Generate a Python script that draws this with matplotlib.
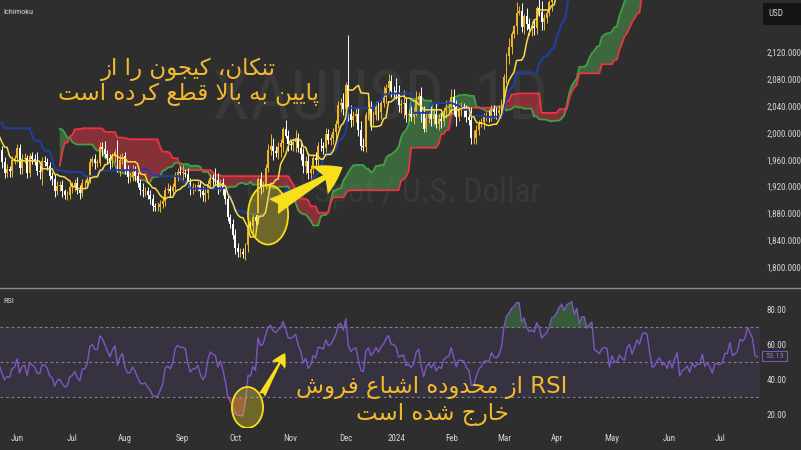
import re
import numpy as np
import pandas as pd
import matplotlib
matplotlib.use('Agg')
import matplotlib.pyplot as plt
from matplotlib import font_manager as fm
from matplotlib.lines import Line2D
from matplotlib.patches import Ellipse, FancyArrowPatch, Rectangle, ArrowStyle

# XAUUSD daily, Mar 10 2023 .. Jul 22 2024 (no bars on Dec 25 / Jan 1)
first_open = 1831
closes = [
    # Mar 2023
    1868, 1913, 1904, 1918, 1919, 1989, 1978, 1940, 1970, 1993, 1978, 1956, 1973, 1964, 1980, 1969,
    # Apr
    1984, 2020, 2021, 2007, 2008, 1990, 2003, 2014, 2040, 2004, 1995, 2005, 1995, 2004, 1983, 1989, 1998, 1990, 1988, 1990,
    # May
    1983, 2016, 2039, 2050, 2017, 2022, 2034, 2030, 2015, 2011, 2018, 1989, 1982, 1958, 1977, 1971, 1975, 1957, 1940, 1946, 1943, 1959, 1962,
    # Jun
    1978, 1948, 1961, 1963, 1940, 1965, 1961, 1957, 1943, 1942, 1958, 1957, 1951, 1936, 1932, 1913, 1921, 1923, 1913, 1907, 1908, 1919,
    # Jul
    1921, 1926, 1915, 1911, 1925, 1925, 1932, 1957, 1961, 1955, 1955, 1979, 1976, 1969, 1962, 1955, 1965, 1972, 1946, 1959, 1965,
    # Aug
    1944, 1934, 1934, 1942, 1936, 1925, 1915, 1913, 1914, 1907, 1902, 1891, 1889, 1889, 1894, 1899, 1915, 1917, 1914, 1920, 1937, 1942, 1940,
    # Sep
    1940, 1939, 1926, 1916, 1919, 1919, 1922, 1913, 1907, 1910, 1924, 1933, 1931, 1930, 1919, 1925, 1916, 1901, 1874, 1864, 1848,
    # Oct
    1828, 1822, 1822, 1820, 1833, 1862, 1861, 1874, 1868, 1932, 1919, 1923, 1947, 1974, 1981, 1973, 1970, 1979, 1985, 2006, 1996, 1983,
    # Nov
    1982, 1986, 1992, 1978, 1969, 1950, 1958, 1940, 1946, 1963, 1959, 1981, 1980, 1978, 1998, 1990, 1992, 2002, 2014, 2041, 2044, 2036,
    # Dec
    2072, 2029, 2019, 2025, 2028, 2004, 1981, 1979, 2027, 2035, 2019, 2027, 2040, 2031, 2045, 2053, 2067, 2077, 2063, 2062,
    # Jan 2024
    2058, 2041, 2043, 2045, 2027, 2029, 2024, 2029, 2049, 2055, 2028, 2006, 2023, 2029, 2021, 2029, 2014, 2021, 2018, 2033, 2037, 2039,
    # Feb
    2054, 2039, 2024, 2035, 2035, 2034, 2024, 2020, 1992, 1992, 2004, 2013, 2017, 2024, 2025, 2024, 2036, 2031, 2030, 2034, 2044,
    # Mar
    2083, 2115, 2128, 2148, 2159, 2179, 2182, 2158, 2174, 2162, 2155, 2160, 2157, 2186, 2181, 2165, 2172, 2179, 2195, 2230, 2233,
    # Apr
    2251, 2280, 2300, 2291, 2329, 2339, 2352, 2333, 2372, 2344, 2383, 2383, 2361, 2379, 2391, 2327, 2322, 2316, 2332, 2337, 2335, 2286,
    # May
    2320, 2303, 2301, 2323, 2314, 2309, 2346, 2360, 2336, 2358, 2386, 2376, 2415, 2425, 2421, 2379, 2329, 2334, 2350, 2360, 2338, 2343, 2327,
    # Jun
    2350, 2327, 2355, 2375, 2293, 2311, 2316, 2325, 2304, 2333, 2319, 2329, 2328, 2360, 2321, 2334, 2319, 2298, 2327, 2326,
    # Jul
    2323, 2330, 2356, 2356, 2392, 2358, 2364, 2372, 2415, 2411, 2422, 2469, 2458, 2445, 2400, 2396,
]
# upper / lower shadow length of each candle, in dollars
wick_up = [
    8, 12, 10, 9, 7, 14, 20, 15, 9, 10, 11, 8, 6, 9, 7, 10,
    6, 5, 11, 12, 6, 8, 7, 10, 8, 5, 9, 6, 8, 9, 10, 7, 6, 9, 8, 6,
    9, 5, 12, 31, 8, 8, 6, 10, 9, 8, 7, 6, 9, 8, 6, 7, 9, 6, 7, 8, 5, 6, 5,
    6, 5, 8, 7, 4, 5, 6, 8, 14, 9, 6, 8, 5, 6, 5, 7, 8, 6, 7, 4, 5, 6,
    6, 5, 8, 7, 6, 5, 4, 6, 5, 7, 6, 8, 8, 12, 6, 7, 5, 4, 17, 9, 5,
    6, 8, 7, 10, 9, 6, 7, 10, 6, 6, 8, 7, 5, 8, 6, 7, 5, 9, 6, 5, 4, 6, 8,
    12, 6, 8, 7, 6, 5, 6, 7, 8, 8, 6, 5, 6, 17, 10, 6, 8, 6, 7, 5, 8,
    9, 8, 6, 7, 3, 5, 7, 6, 6, 2, 10, 6, 6, 9, 17, 11, 8, 7, 6, 3, 13, 8,
    7, 7, 12, 8, 9, 8, 7, 12, 6, 6, 9, 6, 12, 6, 9, 8, 6, 6, 5, 7, 8, 16,
    4, 74, 12, 8, 9, 9, 14, 11, 5, 12, 12, 6, 7, 8, 6, 17, 6, 11, 9, 7,
    20, 14, 7, 19, 9, 7, 11, 10, 13, 6, 13, 12, 7, 7, 11, 7, 15, 7, 9, 5, 12, 7,
    11, 11, 10, 9, 11, 10, 7, 12, 19, 12, 8, 6, 6, 6, 6, 9, 5, 6, 7, 8, 6,
    5, 4, 13, 4, 2, 16, 7, 12, 3, 12, 10, 7, 8, 4, 36, 16, 5, 5, 3, 5, 3,
    14, 3, 5, 14, 1, 8, 7, 21, 4, 59, 28, 1, 21, 3, 26, 2, 12, 13, 7, 9, 10, 11,
    2, 20, 9, 3, 13, 7, 6, 18, 8, 7, 1, 10, 7, 25, 4, 10, 8, 6, 14, 2, 23, 6, 20,
    3, 23, 1, 13, 13, 1, 17, 14, 26, 3, 14, 2, 8, 5, 8, 6, 16, 21, 6, 13,
    9, 3, 8, 9, 0, 1, 3, 14, 9, 13, 18, 1, 14, 8, 20, 3,
]
wick_dn = [
    10, 7, 12, 14, 9, 6, 20, 9, 10, 8, 12, 9, 8, 10, 6, 8,
    8, 4, 9, 6, 10, 9, 8, 7, 6, 12, 10, 7, 8, 7, 6, 10, 9, 7, 8, 7,
    14, 9, 7, 13, 6, 10, 12, 8, 9, 8, 7, 9, 10, 6, 8, 7, 6, 10, 7, 6, 8, 9, 6,
    6, 9, 9, 6, 7, 6, 8, 5, 6, 10, 20, 7, 6, 6, 9, 8, 6, 7, 9, 5, 7, 6,
    9, 8, 6, 10, 7, 8, 6, 6, 7, 9, 6, 5, 10, 6, 7, 9, 6, 8, 5, 10, 6,
    5, 9, 7, 6, 8, 6, 7, 8, 7, 6, 8, 7, 5, 5, 7, 6, 8, 5, 10, 7, 6, 8, 9,
    10, 5, 6, 9, 7, 5, 6, 8, 9, 10, 8, 6, 9, 7, 10, 6, 9, 7, 5, 6, 7,
    8, 7, 7, 6, 10, 11, 6, 10, 6, 4, 10, 7, 7, 6, 7, 14, 6, 9, 15, 14, 3, 10,
    8, 9, 15, 7, 9, 10, 12, 9, 11, 7, 7, 9, 7, 9, 7, 6, 8, 9, 11, 7, 9, 9,
    7, 11, 10, 8, 8, 8, 7, 6, 7, 7, 14, 8, 7, 12, 10, 7, 9, 9, 9, 11,
    8, 10, 11, 21, 11, 9, 6, 11, 4, 6, 11, 5, 5, 8, 10, 9, 7, 10, 11, 7, 10, 7,
    11, 12, 13, 6, 9, 10, 7, 8, 9, 8, 8, 7, 4, 11, 6, 8, 6, 8, 9, 7, 12,
    9, 9, 12, 10, 6, 12, 3, 8, 10, 9, 9, 10, 11, 9, 7, 11, 12, 8, 4, 13, 4,
    23, 12, 7, 10, 8, 7, 12, 14, 15, 18, 6, 17, 8, 13, 21, 14, 6, 18, 25, 11, 8, 3,
    5, 10, 22, 5, 10, 5, 6, 8, 6, 14, 12, 5, 9, 10, 5, 5, 14, 9, 6, 13, 8, 3, 7,
    20, 10, 5, 4, 6, 16, 8, 10, 8, 12, 14, 4, 6, 8, 4, 12, 8, 7, 10, 7,
    4, 11, 14, 5, 8, 12, 8, 7, 3, 13, 12, 2, 10, 5, 7, 8,
]

price_ticks = [1800, 1840, 1880, 1920, 1960, 2000, 2040, 2080, 2120]
rsi_ticks = [20, 40, 60, 80]
rsi_last_label = '53.13'

note_top = ['تنکان، کیجون را از', 'پایین به بالا قطع کرده است']
note_rsi = ['RSI از محدوده اشباع فروش', 'خارج شده است']

BG = '#2e2e2e'
TXT = '#d1d4dc'
BULL = '#edb526'
BEAR = '#ffffff'
NOTE = '#f2ba2c'
MARK = '#f7df1e'

# --- matplotlib has no arabic shaping, so pick presentation forms by hand
AR_FORMS = {
    'ا': ('\uFE8D', '\uFE8E', None, None),
    'ب': ('\uFE8F', '\uFE90', '\uFE91', '\uFE92'),
    'پ': ('\uFB56', '\uFB57', '\uFB58', '\uFB59'),
    'ت': ('\uFE95', '\uFE96', '\uFE97', '\uFE98'),
    'ج': ('\uFE9D', '\uFE9E', '\uFE9F', '\uFEA0'),
    'ح': ('\uFEA1', '\uFEA2', '\uFEA3', '\uFEA4'),
    'خ': ('\uFEA5', '\uFEA6', '\uFEA7', '\uFEA8'),
    'د': ('\uFEA9', '\uFEAA', None, None),
    'ر': ('\uFEAD', '\uFEAE', None, None),
    'ز': ('\uFEAF', '\uFEB0', None, None),
    'س': ('\uFEB1', '\uFEB2', '\uFEB3', '\uFEB4'),
    'ش': ('\uFEB5', '\uFEB6', '\uFEB7', '\uFEB8'),
    'ط': ('\uFEC1', '\uFEC2', '\uFEC3', '\uFEC4'),
    'ع': ('\uFEC9', '\uFECA', '\uFECB', '\uFECC'),
    'ف': ('\uFED1', '\uFED2', '\uFED3', '\uFED4'),
    'ق': ('\uFED5', '\uFED6', '\uFED7', '\uFED8'),
    '\u06A9': ('\uFB8E', '\uFB8F', '\uFB90', '\uFB91'),
    '\u0643': ('\uFB8E', '\uFB8F', '\uFB90', '\uFB91'),
    'ل': ('\uFEDD', '\uFEDE', '\uFEDF', '\uFEE0'),
    'م': ('\uFEE1', '\uFEE2', '\uFEE3', '\uFEE4'),
    'ن': ('\uFEE5', '\uFEE6', '\uFEE7', '\uFEE8'),
    'ه': ('\uFEE9', '\uFEEA', '\uFEEB', '\uFEEC'),
    'و': ('\uFEED', '\uFEEE', None, None),
    '\u06CC': ('\uFBFC', '\uFBFD', '\uFBFE', '\uFBFF'),
    '\u064A': ('\uFBFC', '\uFBFD', '\uFBFE', '\uFBFF'),
}


def rtl(text):
    out = []
    i = 0
    while i < len(text):
        ch = text[i]
        if ch not in AR_FORMS:
            out.append(ch)
            i += 1
            continue
        prev = text[i - 1] if i > 0 else ''
        nxt = text[i + 1] if i + 1 < len(text) else ''
        link_prev = prev in AR_FORMS and AR_FORMS[prev][2] is not None
        if ch == 'ل' and nxt == 'ا':
            out.append('\uFEFC' if link_prev else '\uFEFB')
            i += 2
            continue
        iso, fin, ini, med = AR_FORMS[ch]
        link_next = ini is not None and nxt in AR_FORMS
        if link_prev and link_next:
            out.append(med)
        elif link_prev:
            out.append(fin)
        elif link_next:
            out.append(ini)
        else:
            out.append(iso)
        i += 1
    s = ''.join(out)[::-1]
    return re.sub(r'[A-Za-z0-9.]+', lambda m: m.group(0)[::-1], s)


names = {f.name for f in fm.fontManager.ttflist}
NARROW = next((n for n in ['Liberation Sans Narrow', 'DejaVu Sans Condensed', 'Roboto Condensed']
               if n in names), 'Liberation Sans')

# --- data
days = pd.bdate_range('2023-03-10', '2024-07-22')
days = days[~days.isin(pd.to_datetime(['2023-12-25', '2024-01-01']))]
c = np.array(closes, float)
o = np.r_[first_open, c[:-1]]
h = np.maximum(o, c) + np.array(wick_up)
l = np.minimum(o, c) - np.array(wick_dn)
x = np.arange(len(c))
assert len(days) == len(c) == len(h) == len(l)

hs, ls = pd.Series(h), pd.Series(l)


def mid(n):
    return (hs.rolling(n).max() + ls.rolling(n).min()) / 2


tenkan = mid(9)
kijun = mid(26)
span_b = mid(52)
span_a = ((tenkan + kijun) / 2).where(span_b.notna())
xs = x + 25

delta = pd.Series(c).diff()
gain = delta.clip(lower=0).ewm(alpha=1 / 14, adjust=False).mean()
loss = (-delta.clip(upper=0)).ewm(alpha=1 / 14, adjust=False).mean()
rsi = (100 - 100 / (1 + gain / loss)).to_numpy()

XLIM = (52.2, 355.0)

# --- figure
fig = plt.figure(figsize=(8.01, 4.5), dpi=100, facecolor=BG)
ax = fig.add_axes([0, 1 - 286 / 450, 760 / 801, 286 / 450])
ax2 = fig.add_axes([0, 1 - 428 / 450, 760 / 801, 139 / 450])
for a in (ax, ax2):
    a.set_facecolor(BG)
    for s in a.spines.values():
        s.set_visible(False)

# watermark
ax.text(380 / 801, 1 - 100 / 450, 'XAUUSD, 1D', transform=fig.transFigure, ha='center', va='center',
        fontsize=50, color='#393939', family=NARROW, zorder=0)
ax.text(393 / 801, 1 - 193 / 450, 'Gold Spot / U.S. Dollar', transform=fig.transFigure, ha='center',
        va='center', fontsize=24, color='#393939', family=NARROW, zorder=0)

# cloud
ax.fill_between(xs, span_a, span_b, where=span_a >= span_b, interpolate=True,
                color='#4caf50', alpha=0.45, lw=0, zorder=1)
ax.fill_between(xs, span_a, span_b, where=span_a < span_b, interpolate=True,
                color='#f23645', alpha=0.45, lw=0, zorder=1)
ax.plot(xs, span_a, color='#43a047', lw=1.3, zorder=2)
ax.plot(xs, span_b, color='#ee3440', lw=1.3, zorder=2)

# candles
up = c >= o
body = np.where(np.abs(c - o) < 1, 1, c - o)
for m, col in ((up, BULL), (~up, BEAR)):
    ax.vlines(x[m], l[m], h[m], color=col, lw=0.7, zorder=3)
    ax.bar(x[m], body[m], bottom=o[m], width=0.75, color=col, lw=0, zorder=3)

ax.plot(x, kijun, color='#1f3fa6', lw=1.4, zorder=4)
ax.plot(x, tenkan, color='#f7dc45', lw=1.1, zorder=4)

# price scale
ax.yaxis.tick_right()
ax.set_yticks(price_ticks)
ax.set_yticklabels([f'{v:,.3f}' for v in price_ticks], family=NARROW, fontstretch='condensed')
ax.tick_params(axis='y', length=0, pad=4.5, labelsize=6.5, labelcolor=TXT)
ax.set_xticks([])
ax.set_xlim(*XLIM)
ax.set_ylim(1771.6, 2198.4)

# RSI pane
ax2.axhspan(30, 70, color='#7e57c2', alpha=0.12, lw=0, zorder=0)
for v in (70, 50, 30):
    ax2.axhline(v, color='#80808e', lw=0.8, ls=(0, (2.5, 2.5)), zorder=1)
ax2.fill_between(x, rsi, 70, where=rsi > 70, interpolate=True, color='#4caf50', alpha=0.35, lw=0, zorder=2)
ax2.fill_between(x, rsi, 30, where=rsi < 30, interpolate=True, color='#f23645', alpha=0.4, lw=0, zorder=2)
ax2.plot(x, rsi, color='#7e57c2', lw=1.0, zorder=3)
ax2.yaxis.tick_right()
ax2.set_yticks(rsi_ticks)
ax2.set_yticklabels([f'{v:.2f}' for v in rsi_ticks], family=NARROW, fontstretch='condensed')
ax2.tick_params(axis='y', length=0, pad=4.5, labelsize=6.5, labelcolor=TXT)

month_first = [i for i in range(1, len(days))
               if days[i].month != days[i - 1].month and XLIM[0] <= i <= XLIM[1]]
ax2.set_xticks(month_first)
ax2.set_xticklabels(['2024' if days[i].month == 1 else days[i].strftime('%b') for i in month_first],
                    family=NARROW, fontstretch='condensed')
ax2.tick_params(axis='x', length=0, pad=4, labelsize=6.5, labelcolor=TXT)
ax2.set_xlim(*XLIM)
ax2.set_ylim(12.57, 92)

# highlights
ax.add_patch(Ellipse((159, 1878), 16, 89, facecolor=(0.96, 0.86, 0.12, 0.33),
                     edgecolor=MARK, lw=1.3, zorder=6))
ax.add_patch(FancyArrowPatch((161.2, 1890), (188.7, 1949),
                             arrowstyle=ArrowStyle.Fancy(head_length=0.9, head_width=1.1, tail_width=0.6),
                             mutation_scale=21, color=MARK, lw=0, shrinkA=0, shrinkB=0, zorder=6))
ax2.add_patch(Ellipse((150.8, 24.3), 12.4, 23.4, facecolor=(0.96, 0.86, 0.12, 0.33),
                      edgecolor=MARK, lw=1.3, zorder=6))
ax2.add_patch(FancyArrowPatch((156.6, 31.4), (165.8, 55.4),
                              arrowstyle=ArrowStyle.Fancy(head_length=1.0, head_width=1.1, tail_width=0.5),
                              mutation_scale=10, color=MARK, lw=0, shrinkA=0, shrinkB=0, zorder=6))

# pane chrome
fig.add_artist(Line2D([0, 1], [1 - 287.5 / 450] * 2, transform=fig.transFigure, color='#8a8a8a', lw=1))
fig.add_artist(Rectangle((763 / 801, 1 - 25 / 450), 40 / 801, 22 / 450, transform=fig.transFigure,
                         facecolor='#141414', edgecolor='none'))
fig.text(768 / 801, 1 - 14 / 450, 'USD', ha='left', va='center', fontsize=6.5, color=TXT,
         family=NARROW, fontstretch='condensed')
fig.add_artist(Rectangle((762 / 801, 1 - 361 / 450), 25 / 801, 10 / 450, transform=fig.transFigure,
                         facecolor=BG, edgecolor='#7e57c2', lw=0.8))
fig.text(774.5 / 801, 1 - 356 / 450, rsi_last_label, ha='center', va='center', fontsize=6,
         color='#9575cd', family=NARROW, fontstretch='condensed')
fig.text(3 / 801, 1 - 12 / 450, 'Ichimoku', ha='left', va='center', fontsize=6, color=TXT,
         family=NARROW, fontstretch='condensed')
fig.text(3 / 801, 1 - 301 / 450, 'RSI', ha='left', va='center', fontsize=6, color=TXT,
         family=NARROW, fontstretch='condensed')

# notes
fig.text(188 / 801, 1 - 82 / 450, '\n'.join(rtl(t) for t in note_top), ha='center', va='center',
         multialignment='center', linespacing=1.05, fontsize=16.5, color=NOTE, family='DejaVu Sans')
fig.text(432 / 801, 1 - 401 / 450, '\n'.join(rtl(t) for t in note_rsi), ha='center', va='center',
         multialignment='center', linespacing=1.22, fontsize=16.5, color=NOTE, family='DejaVu Sans')

fig.savefig('out.png', dpi=100, facecolor=BG)
